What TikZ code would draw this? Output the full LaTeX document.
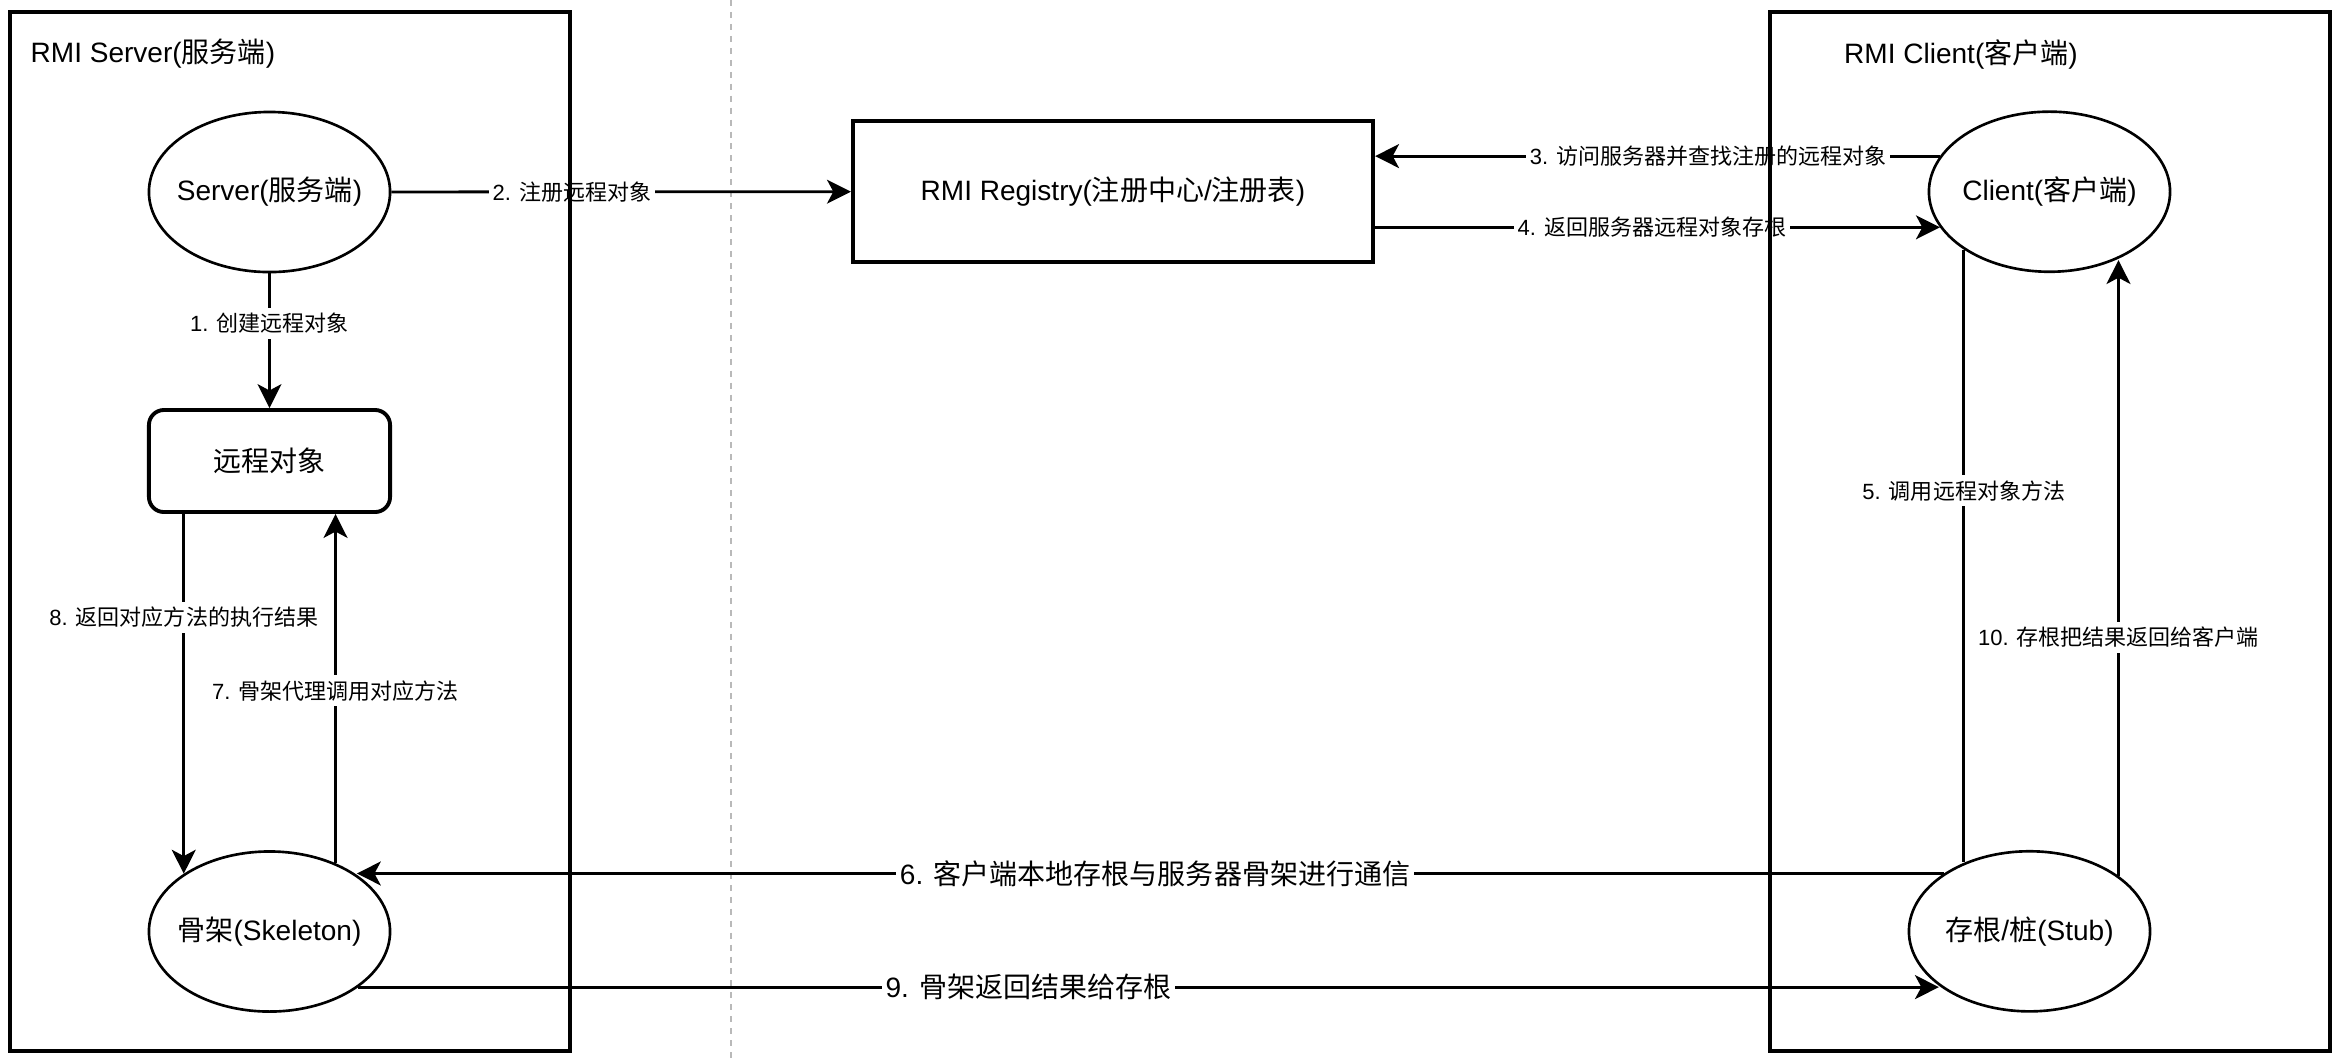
\documentclass[tikz,border=0pt]{standalone}
\usepackage{fontspec}
\setmainfont{Liberation Sans}
\newfontfamily\zhfont{Noto Sans CJK SC}
\newcommand{\zh}[1]{{\zhfont #1}}
\usetikzlibrary{shapes.geometric,arrows.meta}
\definecolor{dashgray}{RGB}{185,185,185}
\tikzset{>={Stealth[length=6.8pt,width=6.8pt,inset=1.8pt]},
   every edge/.append style={line width=0.8pt}
 }

\begin{document}
\begin{tikzpicture}[x=0.01cm,y=-0.01cm]
  \useasboundingbox (0,0) rectangle (2344,1062);
  \tikzstyle{role_node}=[ellipse, draw, fill=white, line width=0.75pt, minimum width=2.41cm, minimum height=1.6cm, inner xsep=-4mm, inner ysep=0pt, font=\fontsize{7.97pt}{9.5pt}\selectfont]
  \tikzstyle{box_node}=[rectangle, draw, fill=white, line width=1.1pt, inner sep=0pt, font=\fontsize{7.97pt}{9.5pt}\selectfont]
  \tikzstyle{title_text}=[inner sep=0pt, font=\fontsize{7.97pt}{9.5pt}\selectfont]
  \tikzstyle{msg_label}=[fill=white, inner xsep=1pt, inner ysep=1.5pt, font=\fontsize{6.26pt}{7.5pt}\selectfont]
  \tikzstyle{msg_label_big}=[msg_label, font=\fontsize{7.97pt}{9.5pt}\selectfont]
  % divider
  \draw[dashgray, line width=0.57pt, dash pattern=on 1.7pt off 1.7pt] (731,0) -- (731,1062);
  % server side
  \begin{scope}
    \node[title_text, anchor=west] (srvtitle) at (30,54) {RMI Server(\zh{服务端})};
    \node[role_node] (server) at (269.5,192) {Server(\zh{服务端})};
    \node[box_node, rounded corners=1.5mm, minimum width=2.41cm, minimum height=1.02cm] (obj) at (269.5,461) {\zh{远程对象}};
    \node[role_node] (skel) at (269.5,931.5) {\zh{骨架}(Skeleton)};
  \end{scope}
  % registry
  \node[box_node, minimum width=5.2cm, minimum height=1.41cm] (reg) at (1113,191.5) {RMI Registry(\zh{注册中心}/\zh{注册表})};
  % client side
  \begin{scope}
    \node[title_text] (clttitle) at (1961,54) {RMI Client(\zh{客户端})};
    \node[role_node] (client) at (2049.5,191.7) {Client(\zh{客户端})};
    \node[role_node] (stub) at (2029.5,931.3) {\zh{存根}/\zh{桩}(Stub)};
  \end{scope}
  % messages
  \path (server) edge[->] node[msg_label, pos=0.37] {1. \zh{创建远程对象}} (obj);
  \path (server) edge[->] node[msg_label, pos=0.393] {2. \zh{注册远程对象}} (reg);
  \path (client.162.9) edge[->] node[msg_label, pos=0.41] {3. \zh{访问服务器并查找注册的远程对象}} (client.162.9 -| reg.east);
  \path (reg.east |- client.198.7) edge[->] node[msg_label, pos=0.49] {4. \zh{返回服务器远程对象存根}} (client.198.7);
  \path (client.214) edge node[msg_label, pos=0.394] {5. \zh{调用远程对象方法}} (client.214 |- stub.133.7);
  \path (stub.146.7) edge[->] node[msg_label_big, pos=0.497] {6. \zh{客户端本地存根与服务器骨架进行通信}} (stub.146.7 -| skel.33.5);
  \path (skel.46.3) edge[->] node[msg_label, pos=0.494] {7. \zh{骨架代理调用对应方法}} (skel.46.3 |- obj.south);
  \path (skel.146 |- obj.south) edge[->] node[msg_label, pos=0.287] {8. \zh{返回对应方法的执行结果}} (skel.146);
  \path (skel.328.3) edge[->] node[msg_label_big, pos=0.424] {9. \zh{骨架返回结果给存根}} (skel.328.3 -| stub.211.9);
  \path (stub.32.8) edge[->] node[msg_label, pos=0.387] {10. \zh{存根把结果返回给客户端}} (stub.32.8 |- client.314.9);
  % containers
  \draw[line width=1.1pt] (10,12) rectangle (570,1051);
  \draw[line width=1.1pt] (1770,12) rectangle (2330,1051);
\end{tikzpicture}
\end{document}
